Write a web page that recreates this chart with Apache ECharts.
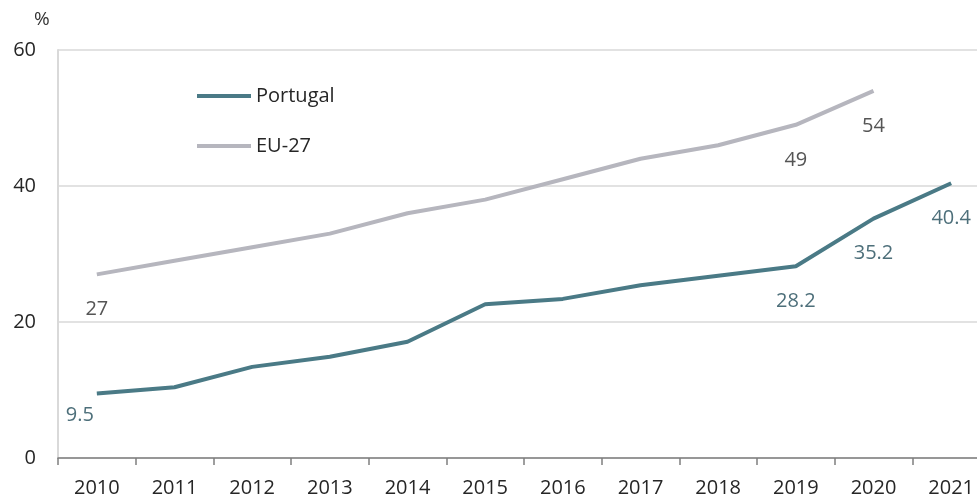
<!DOCTYPE html>
<html>
<head>
<meta charset="utf-8">
<script src="https://cdn.jsdelivr.net/npm/echarts@6/dist/echarts.min.js"></script>
<style>
html, body { margin: 0; padding: 0; background: #fff; overflow: hidden; }
#chart { width: 992px; height: 500px; }
</style>
</head>
<body>
<div id="chart"></div>
<script>
// data
const years = ['2010', '2011', '2012', '2013', '2014', '2015', '2016', '2017', '2018', '2019', '2020', '2021'];
const portugal = [9.5, 10.4, 13.4, 14.9, 17.1, 22.6, 23.4, 25.4, 26.8, 28.2, 35.2, 40.4];
const eu27 = [27, 29, 31, 33, 36, 38, 41, 44, 46, 49, 54, null];
// which points carry a value label
const portugalLabelled = [0, 9, 10, 11];
const euLabelled = [0, 9, 10];

const font = 'Open Sans';
const fs = 20;
const ptColor = '#4a7a86';
const euColor = '#b6b6be';

function withLabels(values, idx, color, firstOffset) {
    return values.map(function (v, i) {
        if (idx.indexOf(i) < 0) return v;
        let lbl = {
            show: true,
            position: 'bottom',
            distance: 25,
            color: color,
            fontFamily: font,
            fontSize: fs
        };
        if (i === 0 && firstOffset) {
            lbl.offset = firstOffset;
        }
        return { value: v, label: lbl };
    });
}

let chart = echarts.init(document.getElementById('chart'));
let option = {
    animation: false,
    title: {
        text: '%',
        left: 29,
        top: 5,
        textStyle: { fontFamily: font, fontSize: 19, fontWeight: 'normal', color: '#333' }
    },
    legend: {
        orient: 'vertical',
        left: 192,
        top: 81,
        itemWidth: 54,
        itemHeight: 4,
        itemGap: 30,
        icon: 'rect',
        textStyle: { fontFamily: font, fontSize: fs, color: '#262626' },
        data: ['Portugal', 'EU-27']
    },
    grid: {
        left: 58,
        top: 50,
        width: 932,
        height: 408,
        containLabel: false
    },
    xAxis: {
        type: 'category',
        data: years,
        boundaryGap: true,
        axisLine: { lineStyle: { color: '#7f7f7f', width: 1.5 } },
        axisTick: { show: true, length: 7, lineStyle: { color: '#7f7f7f', width: 1.5 } },
        axisLabel: { margin: 20, fontFamily: font, fontSize: fs, color: '#262626' }
    },
    yAxis: {
        type: 'value',
        min: 0,
        max: 60,
        interval: 20,
        axisLine: { show: true, lineStyle: { color: '#d9d9d9', width: 2 } },
        axisTick: { show: false },
        splitLine: { lineStyle: { color: '#d9d9d9', width: 1.5 } },
        axisLabel: { margin: 22, fontFamily: font, fontSize: fs, color: '#262626' }
    },
    series: [
        {
            name: 'Portugal',
            type: 'line',
            symbol: 'circle',
            symbolSize: 0,
            showSymbol: true,
            color: ptColor,
            lineStyle: { width: 4, color: ptColor },
            data: withLabels(portugal, portugalLabelled, '#4d6f7a', [-17, -13])
        },
        {
            name: 'EU-27',
            type: 'line',
            symbol: 'circle',
            symbolSize: 0,
            showSymbol: true,
            color: euColor,
            lineStyle: { width: 4, color: euColor },
            data: withLabels(eu27, euLabelled, '#555555', null)
        }
    ]
};
chart.setOption(option);
</script>
</body>
</html>
